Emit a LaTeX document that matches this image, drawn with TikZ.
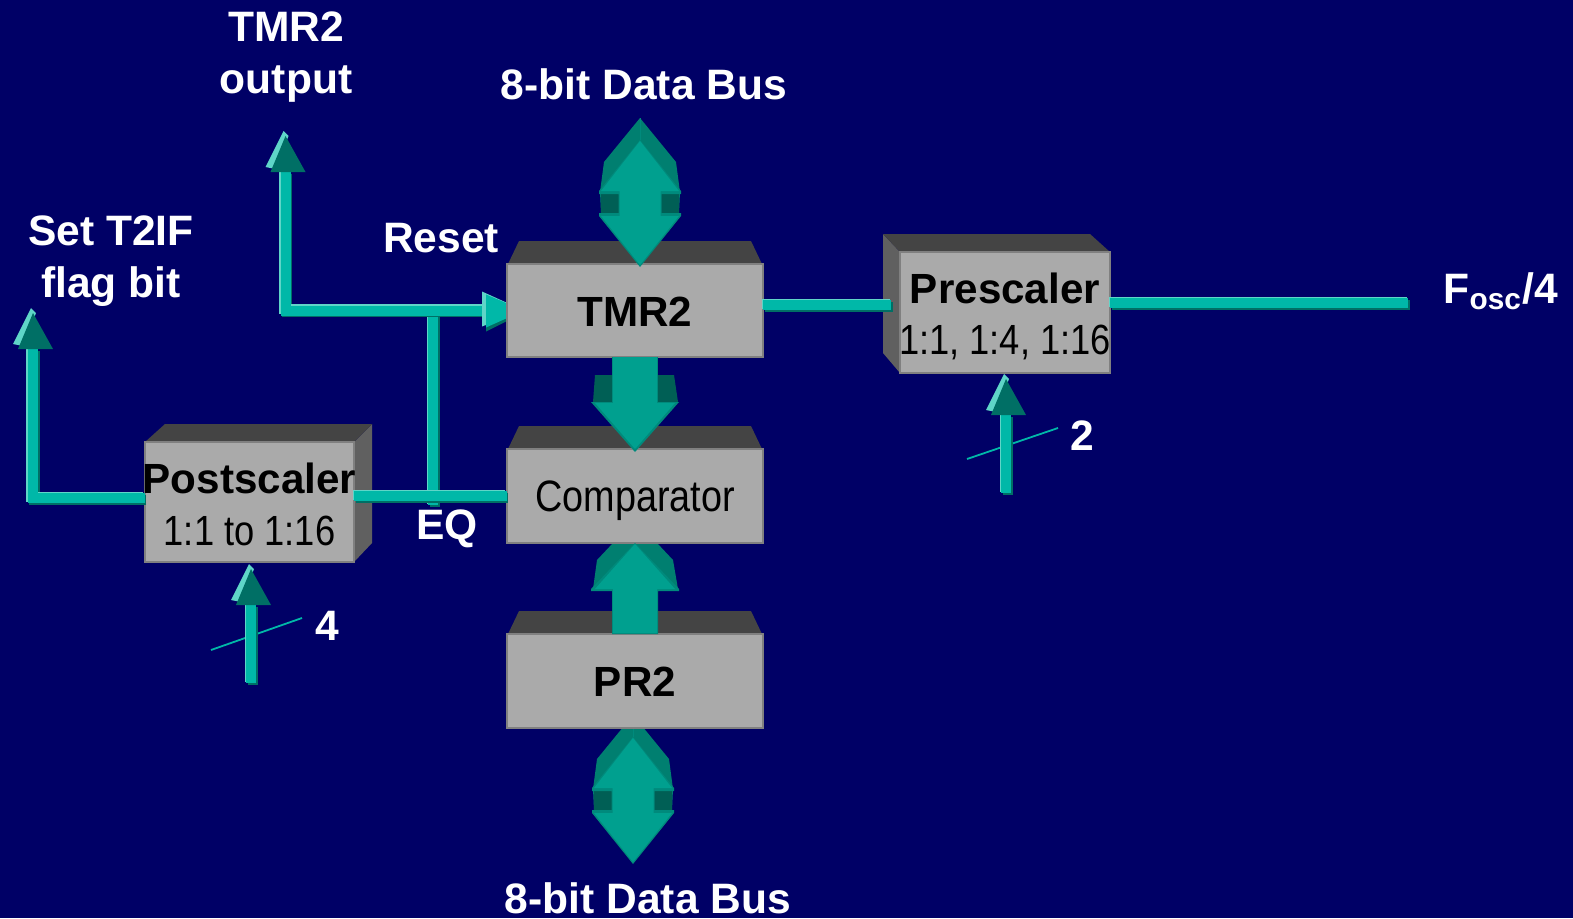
\documentclass[tikz,border=0pt]{standalone}
\usepackage{fontspec}
\setmainfont{Liberation Sans}
\newfontfamily\condfont[FakeStretch=0.86]{Liberation Sans}
\definecolor{navy}{HTML}{000066}
\definecolor{boxfill}{HTML}{AAAAAA}
\definecolor{boxedge}{HTML}{808080}
\definecolor{topface}{HTML}{444444}
\definecolor{sideface}{HTML}{606060}
\definecolor{wiremid}{HTML}{00B8A8}
\definecolor{wirelight}{HTML}{5FD5C8}
\definecolor{wiredark}{HTML}{006F65}
\definecolor{busfront}{HTML}{00A08F}
\definecolor{busrim}{HTML}{008A7C}
\definecolor{busback}{HTML}{007F70}
\definecolor{busdeep}{HTML}{005F55}
\newcommand{\wire}[1]{%
  \draw[wireline,draw=wiredark,transform canvas={xshift=0.015cm,yshift=-0.015cm}] #1;
  \draw[wireline,draw=wirelight,transform canvas={xshift=-0.015cm,yshift=0.015cm}] #1;
  \draw[wireline,draw=wiremid] #1;}
\tikzset{
  block/.style={draw=boxedge,fill=boxfill,line width=0.02cm,inner sep=0pt,outer sep=0pt,
    align=center,text=black,minimum width=2.56cm,minimum height=0.93cm,
    font=\fontsize{12}{14.7}\selectfont\bfseries},
  oneline/.style={text height=9pt,text depth=0pt},
  label/.style={text=white,align=center,inner sep=0pt,font=\fontsize{12.1}{14.9}\selectfont\bfseries},
  wireline/.style={line width=0.10cm},
  slash/.style={line width=0.018cm,draw=wiremid},
  pics/headup/.style={code={
    \fill[wirelight] (-20,-5) -- (-2,-41) -- (3,-36) -- (-10,-3) -- cycle;
    \fill[wiredark] (-15,0) -- (0,-36) -- (20,0) -- cycle;
  }},
  pics/headright/.style={code={
    \fill[wirelight] (-3,-19) -- (39,0) -- (-3,16) -- cycle;
    \fill[wiredark] (1,-14) -- (39,2) -- (1,21) -- cycle;
    \fill[wiremid] (1,-16) -- (39,0) -- (1,17) -- cycle;
  }},
  pics/busrear/.style={code={
    \fill[busback] (0,-84) -- (36,-40) -- (40,-10) -- (39,11) -- (-39,11) -- (-40,-10) -- (-36,-40) -- cycle;
    \fill[busdeep] (-39,-10) rectangle (-21,12);
    \fill[busdeep] (21,-10) rectangle (39,12);
    \draw[busrim,line width=0.01cm] (0,-84) -- (0,-62);
  }},
  pics/busmain/.style={code={
    \fill[busrim] (0,-62) -- (41,-11) -- (41,-8) -- (21.5,-8) -- (21.5,11) -- (41,11) -- (41,14) -- (0,65)
      -- (-41,14) -- (-41,11) -- (-21.5,11) -- (-21.5,-8) -- (-41,-8) -- (-41,-11) -- cycle;
    \fill[busfront] (0,-61) -- (39,-11) -- (20.5,-11) -- (20.5,14) -- (39,14) -- (0,63)
      -- (-39,14) -- (-20.5,14) -- (-20.5,-11) -- (-39,-11) -- cycle;
  }},
  pics/busdown/.style={code={
    \fill[busdeep] (-40,-27) -- (39,-27) -- (43,0) -- (-42,0) -- cycle;
    \fill[busrim] (-44,0) -- (44,0) -- (0,50) -- cycle;
    \fill[busrim] (-23,-45) rectangle (23,2);
    \fill[busfront] (-40,1) -- (40,1) -- (0,47) -- cycle;
    \fill[busfront] (-22,-45) rectangle (22,2);
  }},
  pics/busuprear/.style={code={
    \fill[busback] (-22,-46) -- (22,-46) -- (38,-29) -- (43,0) -- (-42,0) -- (-38,-29) -- cycle;
  }},
  pics/busupmain/.style={code={
    \fill[busrim] (0,-46) -- (44,0) -- (44,2) -- (23,2) -- (23,45) -- (-23,45) -- (-23,2) -- (-44,2) -- (-44,0) -- cycle;
    \fill[busfront] (0,-45) -- (40,0) -- (22,0) -- (22,44) -- (-22,44) -- (-22,0) -- (-40,0) -- cycle;
  }}
}
\begin{document}
\begin{tikzpicture}[x=0.01cm,y=-0.01cm]
    \useasboundingbox (0,0) rectangle (1573,918);
    \fill[navy] (0,0) rectangle (1573,918);

    % Puntos
    \coordinate (busTop) at (640,202);
    \coordinate (busBot) at (633,799);
    \coordinate (busDown) at (635,402);
    \coordinate (busUp) at (635,589);
    \coordinate (outEnd) at (285.5,172);
    \coordinate (flagEnd) at (33,349);
    \coordinate (flagKnee) at (33,498);
    \coordinate (eqFoot) at (433,505);
    \coordinate (eqHead) at (433,310);
    \coordinate (rstHead) at (485,310.5);
    \coordinate (in4Head) at (251,605);
    \coordinate (in4Foot) at (251,683);
    \coordinate (in2Head) at (1006,415);
    \coordinate (in2Foot) at (1006,493);
    \coordinate (s4a) at (211,650);
    \coordinate (s4b) at (302,618);
    \coordinate (s2a) at (967,459);
    \coordinate (s2b) at (1058,428);
    \coordinate (preIn) at (891,305);
    \coordinate (oscEnd) at (1408,303);

    % Flechas de bus, parte trasera
    \path (busTop) pic {busrear};
    \path (busBot) pic {busrear};
    \path (busUp) pic {busuprear};

    % Caras superiores
    \fill[topface] (508,264) -- (519,241) -- (751,241) -- (762,264) -- cycle;
    \fill[topface] (508,449) -- (519,426) -- (751,426) -- (762,449) -- cycle;
    \fill[topface] (508,634) -- (519,611) -- (751,611) -- (762,634) -- cycle;

    % Cables
    \wire{(eqHead) -- (eqFoot)}
    \draw[slash] (s4a) -- (s4b);
    \draw[slash] (s2a) -- (s2b);
    \wire{(in4Foot) -- (in4Head)}
    \wire{(in2Foot) -- (in2Head)}
    \wire{(outEnd) |- (rstHead)}
    \path (rstHead) pic {headright};
    \path (outEnd) pic {headup};
    \path (in4Head) pic {headup};
    \path (in2Head) pic {headup};

    % Bloques
    \node[block,oneline] (tmr) at (635,310.5) {TMR2};
    \node[block,oneline] (cmp) at (635,496) {\fontsize{12.5}{14.7}\condfont\mdseries Comparator};
    \node[block,oneline] (pr) at (635,681) {PR2};
    \fill[sideface] (883,234) -- (900,252) -- (900,373) -- (883,353) -- cycle;
    \fill[topface] (883,234) -- (1090,234) -- (1110,252) -- (900,252) -- cycle;
    \node[block,minimum width=2.10cm,minimum height=1.21cm] (pre) at (1005,312.5)
        {\rule{0pt}{11pt}\makebox[0pt]{Prescaler}\\\makebox[0pt]{\condfont\mdseries 1:1, 1:4, 1:16}};
    \fill[sideface] (372,424) -- (372,543) -- (354,562) -- (354,442) -- cycle;
    \fill[topface] (165,424) -- (372,424) -- (354,442) -- (145,442) -- cycle;
    \node[block,minimum width=2.09cm,minimum height=1.20cm] (post) at (249.5,502)
        {\rule{0pt}{10pt}\makebox[0pt]{Postscaler}\\\makebox[0pt]{\condfont\mdseries 1:1 to 1:16}};

    \wire{(post.west |- flagKnee) -- (flagKnee) -- (flagEnd)}
    \wire{(post.east |- cmp.west) -- (cmp.west)}
    \wire{(tmr.east |- preIn) -- (preIn)}
    \wire{(pre.east |- oscEnd) -- (oscEnd)}
    \path (flagEnd) pic {headup};

    % Flechas de bus, parte frontal
    \path (busTop) pic {busmain};
    \path (busBot) pic {busmain};
    \path (busDown) pic {busdown};
    \path (busUp) pic {busupmain};

    % Textos
    \node[label] (lbOut) at (286,57) {TMR2\\output};
    \node[label] (lbFlag) at (111,261) {Set T2IF\\flag bit};
    \node[label] (lbRst) at (441,238) {Reset};
    \node[label] (lbBusT) at (644,84) {8-bit Data Bus};
    \node[label] (lbBusB) at (648,898) {8-bit Data Bus};
    \node[label] (lbEq) at (447,529) {EQ};
    \node[label] (lb4) at (327,626) {4};
    \node[label] (lb2) at (1082,436) {2};
    \node[label] (lbOsc) at (1501,291) {F\textsubscript{osc}/4};
\end{tikzpicture}
\end{document}
